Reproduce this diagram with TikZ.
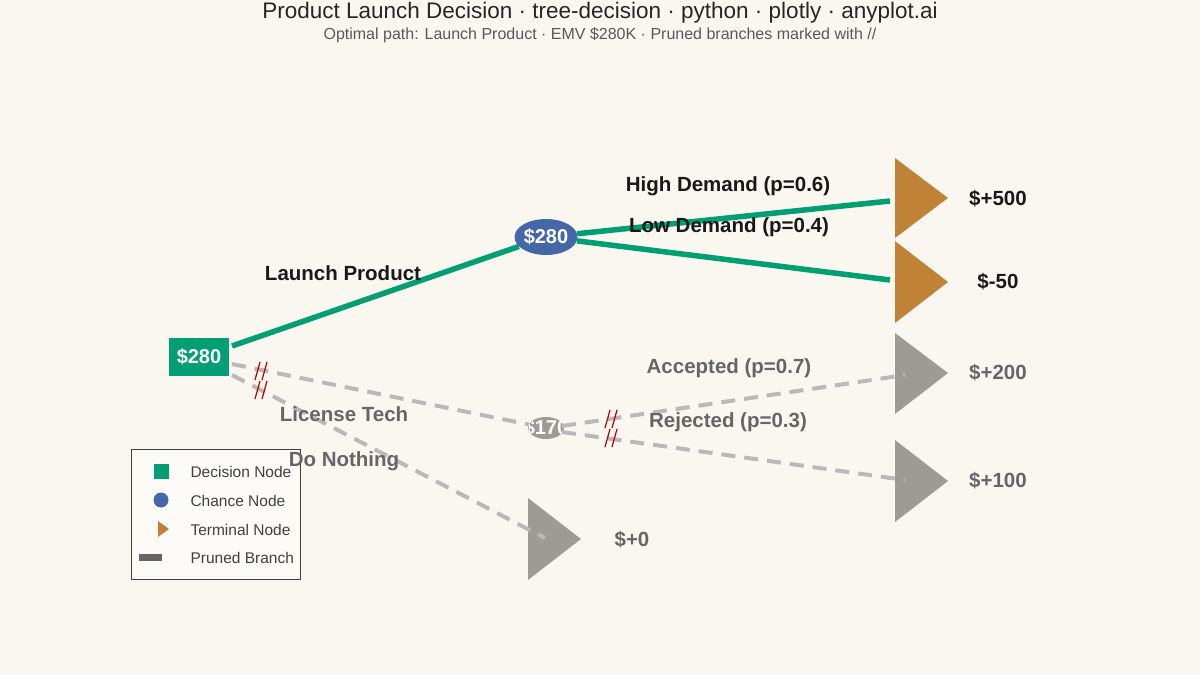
\documentclass[tikz,border=0pt]{standalone}
\usepackage{fontspec}
\setmainfont{Liberation Sans}
\usetikzlibrary{shapes.geometric}
\begin{document}
\begin{tikzpicture}[x=1pt,y=-1pt,
  lab/.style={font=\bfseries\fontsize{20.5}{22}\selectfont,text=black!90},
  glab/.style={font=\bfseries\fontsize{20.5}{22}\selectfont,text=black!60},
  opt/.style={line width=5.5pt},
  prn/.style={line width=4pt,draw=gray!55,dash pattern=on 14pt off 9pt},
  cutl/.style={draw=red!70!black,line width=1.2pt},
  term/.style={fill=#1,draw=none},
  leg/.style={anchor=west,text=black!75,font=\fontsize{15.5}{17}\selectfont}]
\definecolor{bg}{HTML}{FAF7F0}
\definecolor{dg}{HTML}{009E73}
\definecolor{cb}{HTML}{4467A8}
\definecolor{tor}{HTML}{BF8236}
\definecolor{tg}{HTML}{9C9B94}
\fill[bg] (0,0) rectangle (1200,675);
\useasboundingbox (0,0) rectangle (1200,675);
\node[font=\fontsize{22.5}{24}\selectfont,text=black!85] (title) at (600,13) {Product Launch Decision · tree-decision · python · plotly · anyplot.ai};
\node[font=\fontsize{16}{18}\selectfont,text=black!65] (sub) at (600,35) {Optimal path: Launch Product · EMV \$280K · Pruned branches marked with //};
% legend
\draw[fill=bg!50!white,draw=black!75,line width=1pt] (131,449) rectangle (300,579);
\fill[dg] (154,464) rectangle (169,479);
\fill[cb] (161,500) circle (7.5);
\fill[tor] (158,521) -- (158,537) -- (169,529) -- cycle;
\fill[black!60] (139,554) rectangle (162,561);
\node[leg] at (187,472) {Decision Node};
\node[leg] at (187,501) {Chance Node};
\node[leg] at (187,530) {Terminal Node};
\node[leg] at (187,558) {Pruned Branch};
% terminals
\fill[term=tor] (895,158) -- (895,238) -- (948,198) -- cycle;
\fill[term=tor] (895,241) -- (895,323) -- (948,282) -- cycle;
\fill[term=tg] (895,333) -- (895,414) -- (948,373) -- cycle;
\fill[term=tg] (895,440) -- (895,522) -- (948,481) -- cycle;
\fill[term=tg] (528,498) -- (528,580) -- (581,539) -- cycle;
\coordinate (t1) at (890,201);
\coordinate (t2) at (890,280);
\coordinate (t3) at (905,375);
\coordinate (t4) at (905,480);
\coordinate (t5) at (545,538);
% nodes
\node[fill=dg,minimum width=60pt,minimum height=38pt,inner sep=0pt,text=white,font=\bfseries\fontsize{20}{22}\selectfont] (d) at (199,357) {\$280};
\node[ellipse,fill=cb,minimum width=60pt,minimum height=36pt,inner sep=0pt,text=white,font=\bfseries\fontsize{20}{22}\selectfont] (c1) at (546,237) {\$280};
\node[ellipse,fill=tg,minimum width=36pt,minimum height=22pt,inner sep=0pt] (c2) at (546,428) {};
\begin{scope}
\clip (546,428) ellipse (18 and 11);
\node[text=white,font=\bfseries\fontsize{20}{22}\selectfont] at (546,428) {\$170};
\end{scope}
% edges
\draw[prn] (232,364) -- (c2);
\draw[prn] (232,375) -- (t5);
\draw[prn] (562,426) -- (t3);
\draw[prn] (562,432) -- (t4);
\draw[opt,draw=dg] (232,346) -- (c1);
\draw[opt,draw=dg] (c1) -- (t1);
\draw[opt,draw=dg] (c1) -- (t2);
% cuts
\foreach \x/\y in {261/371,261/390,611/419,611/438}{
  \draw[cutl] (\x-6,\y+9) -- (\x-1,\y-9);
  \draw[cutl] (\x+1,\y+9) -- (\x+6,\y-9);
}
% labels
\node[lab] at (343,273) {Launch Product};
\node[glab] at (344,414) {License Tech};
\node[glab] at (344,461) {Do Nothing};
\node[lab] at (728,186) {High Demand (p=0.6)};
\node[lab] at (729,227) {Low Demand (p=0.4)};
\node[glab] at (729,368) {Accepted (p=0.7)};
\node[glab] at (728,422) {Rejected (p=0.3)};
\node[lab] at (998,199) {\$+500};
\node[lab] at (998,282) {\$-50};
\node[glab] at (998,373) {\$+200};
\node[glab] at (998,481) {\$+100};
\node[glab] at (632,540) {\$+0};
\end{tikzpicture}
\end{document}
